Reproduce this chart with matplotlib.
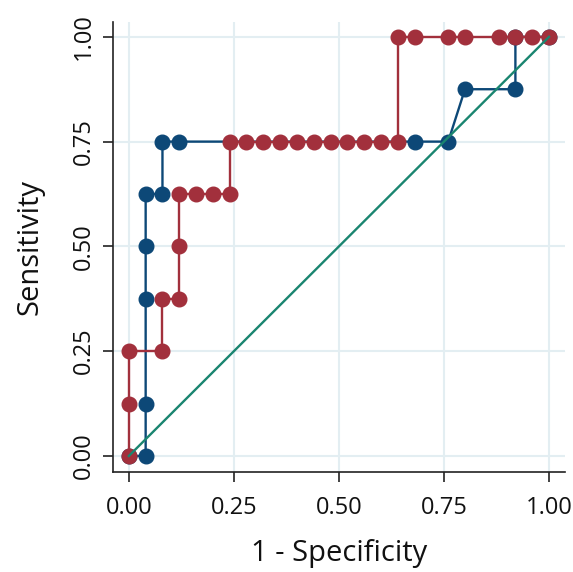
import matplotlib
matplotlib.use("Agg")
import matplotlib.pyplot as plt

# Curve 1 (blue)
blue_x = [0.00, 0.04, 0.04, 0.04, 0.04, 0.04, 0.08, 0.08, 0.12, 0.68, 0.76, 0.80, 0.92, 0.92, 1.00]
blue_y = [0.000, 0.000, 0.125, 0.375, 0.500, 0.625, 0.625, 0.750, 0.750, 0.750, 0.750, 0.875, 0.875, 1.000, 1.000]

# Curve 2 (red)
red_x = [0.00, 0.00, 0.00, 0.08, 0.08, 0.12, 0.12, 0.12, 0.16, 0.20, 0.24, 0.24,
         0.28, 0.32, 0.36, 0.40, 0.44, 0.48, 0.52, 0.56, 0.60, 0.64,
         0.64, 0.68, 0.76, 0.80, 0.88, 0.92, 0.96, 1.00]
red_y = [0.000, 0.125, 0.250, 0.250, 0.375, 0.375, 0.500, 0.625, 0.625, 0.625, 0.625, 0.750,
         0.750, 0.750, 0.750, 0.750, 0.750, 0.750, 0.750, 0.750, 0.750, 0.750,
         1.000, 1.000, 1.000, 1.000, 1.000, 1.000, 1.000, 1.000]

ref_x = [0.0, 1.0]
ref_y = [0.0, 1.0]

ticks = [0.00, 0.25, 0.50, 0.75, 1.00]
tick_labels = ["0.00", "0.25", "0.50", "0.75", "1.00"]

plt.rcParams['font.family'] = ['Open Sans', 'DejaVu Sans']

fig = plt.figure(figsize=(5.73, 5.72), dpi=100)
ax = fig.add_axes([0.197, 0.175, 0.789, 0.787])

BLUE = "#0d4877"
RED = "#a2303c"
TEAL = "#1a8570"
GRID = "#e3eef2"

ax.plot(blue_x, blue_y, color=BLUE, lw=1.7, marker="o", ms=10.5, mec=BLUE, mfc=BLUE, zorder=3)
ax.plot(red_x, red_y, color=RED, lw=1.7, marker="o", ms=10.5, mec=RED, mfc=RED, zorder=4)
ax.plot(ref_x, ref_y, color=TEAL, lw=1.7, zorder=5)

ax.set_xlim(-0.038, 1.038)
ax.set_ylim(-0.038, 1.036)
ax.set_xticks(ticks)
ax.set_xticklabels(tick_labels)
ax.set_yticks(ticks)
ax.set_yticklabels(tick_labels, rotation=90, va="center")
ax.grid(True, color=GRID, lw=1.5, zorder=0)
ax.set_axisbelow(True)

for s in ["top", "right"]:
    ax.spines[s].set_visible(False)
for s in ["left", "bottom"]:
    ax.spines[s].set_color("#222222")
    ax.spines[s].set_linewidth(1.2)

ax.tick_params(axis="both", direction="out", length=7, width=1.2, color="#222222",
               labelsize=17, labelcolor="#111111")
ax.tick_params(axis="x", pad=10)
ax.tick_params(axis="y", pad=5)

ax.set_xlabel("1 - Specificity", fontsize=21, color="#111111", labelpad=14)
ax.set_ylabel("Sensitivity", fontsize=21, color="#111111", labelpad=20)

fig.savefig("out.png", dpi=100, facecolor="white")
